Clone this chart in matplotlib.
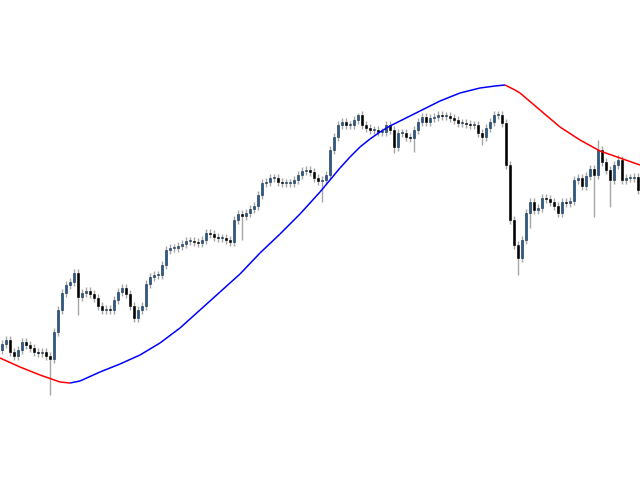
import numpy as np
import matplotlib
matplotlib.use('Agg')
import matplotlib.pyplot as plt
from matplotlib.collections import LineCollection

# closing prices, one candle every 4 px
close = [136, 140, 128, 124, 130, 138, 135, 132, 128, 127,
         128, 124, 121, 148, 170, 187, 195, 198, 207, 183,
         187, 189, 186, 182, 174, 170, 171, 170, 180, 188,
         192, 186, 174, 162, 170, 174, 196, 203, 205, 205,
         215, 230, 232, 232, 234, 236, 239, 239, 238, 237,
         240, 247, 246, 243, 242, 242, 240, 238, 260, 266,
         264, 267, 271, 274, 285, 297, 298, 302, 302, 298,
         297, 297, 297, 300, 305, 309, 310, 308, 302, 299,
         300, 305, 330, 343, 355, 358, 355, 355, 360, 365,
         355, 352, 350, 350, 348, 348, 355, 350, 333, 347,
         347, 343, 342, 350, 358, 363, 358, 362, 363, 365,
         364, 364, 362, 360, 357, 357, 356, 355, 355, 347,
         343, 352, 358, 365, 365, 357, 315, 260, 235, 222,
         240, 267, 278, 270, 272, 282, 281, 278, 274, 267,
         278, 277, 279, 300, 302, 294, 304, 311, 305, 330,
         318, 310, 300, 315, 320, 300, 302, 302, 303, 290]
first_open = 130

# long shadows: candle index -> extreme price
long_lows = {12: 85, 19: 165, 33: 158, 60: 240, 80: 278, 98: 327,
             103: 328, 120: 335, 129: 205, 132: 252, 148: 263, 152: 273}
long_highs = {89: 367, 149: 340, 154: 325}

# slow moving average
ma_x = [0, 20, 40, 60, 70, 80, 100, 120, 140, 160, 180, 200, 220, 240,
        260, 280, 300, 320, 340, 350, 360, 370, 380, 390, 400, 410, 420,
        440, 460, 480, 495, 505, 515, 520, 540, 560, 580, 600, 620, 640]
ma_y = [122, 113, 105, 98, 97, 99, 108, 116, 125, 137, 152, 170, 188, 206,
        227, 246, 266, 288, 312, 323, 333, 341, 348, 354, 359, 364, 369,
        379, 387, 392, 394, 395, 390, 387, 370, 353, 340, 329, 322, 315]

close = np.array(close, dtype=float)
opn = np.concatenate([[first_open], close[:-1]])
xs = 2 + 4 * np.arange(len(close))
high = np.maximum(opn, close) + 4
low = np.minimum(opn, close) - 4
for i, v in long_lows.items():
    low[i] = v
for i, v in long_highs.items():
    high[i] = v

fig = plt.figure(figsize=(6.4, 4.8), dpi=100)
ax = fig.add_axes([0, 0, 1, 1])
ax.set_xlim(0, 640)
ax.set_ylim(0, 480)
ax.axis('off')

ax.vlines(xs, low, high, color='#a6a6a6', linewidth=1.0, zorder=1)
up = close >= opn
body = np.maximum(np.abs(close - opn), 1)
bottom = np.minimum(opn, close)
ax.bar(xs[up], body[up], bottom=bottom[up], width=1.6, color='#2a5b8c',
       edgecolor='#16304a', linewidth=0.4, zorder=2)
ax.bar(xs[~up], body[~up], bottom=bottom[~up], width=1.6, color='black',
       edgecolor='black', linewidth=0.4, zorder=2)

# MA coloured by slope
pts = np.column_stack([ma_x, ma_y])
segs = np.stack([pts[:-1], pts[1:]], axis=1)
cols = ['blue' if b > a else 'red' for a, b in zip(ma_y[:-1], ma_y[1:])]
ax.add_collection(LineCollection(segs, colors=cols, linewidths=1.1, zorder=3))

plt.savefig('out.png', dpi=100)
